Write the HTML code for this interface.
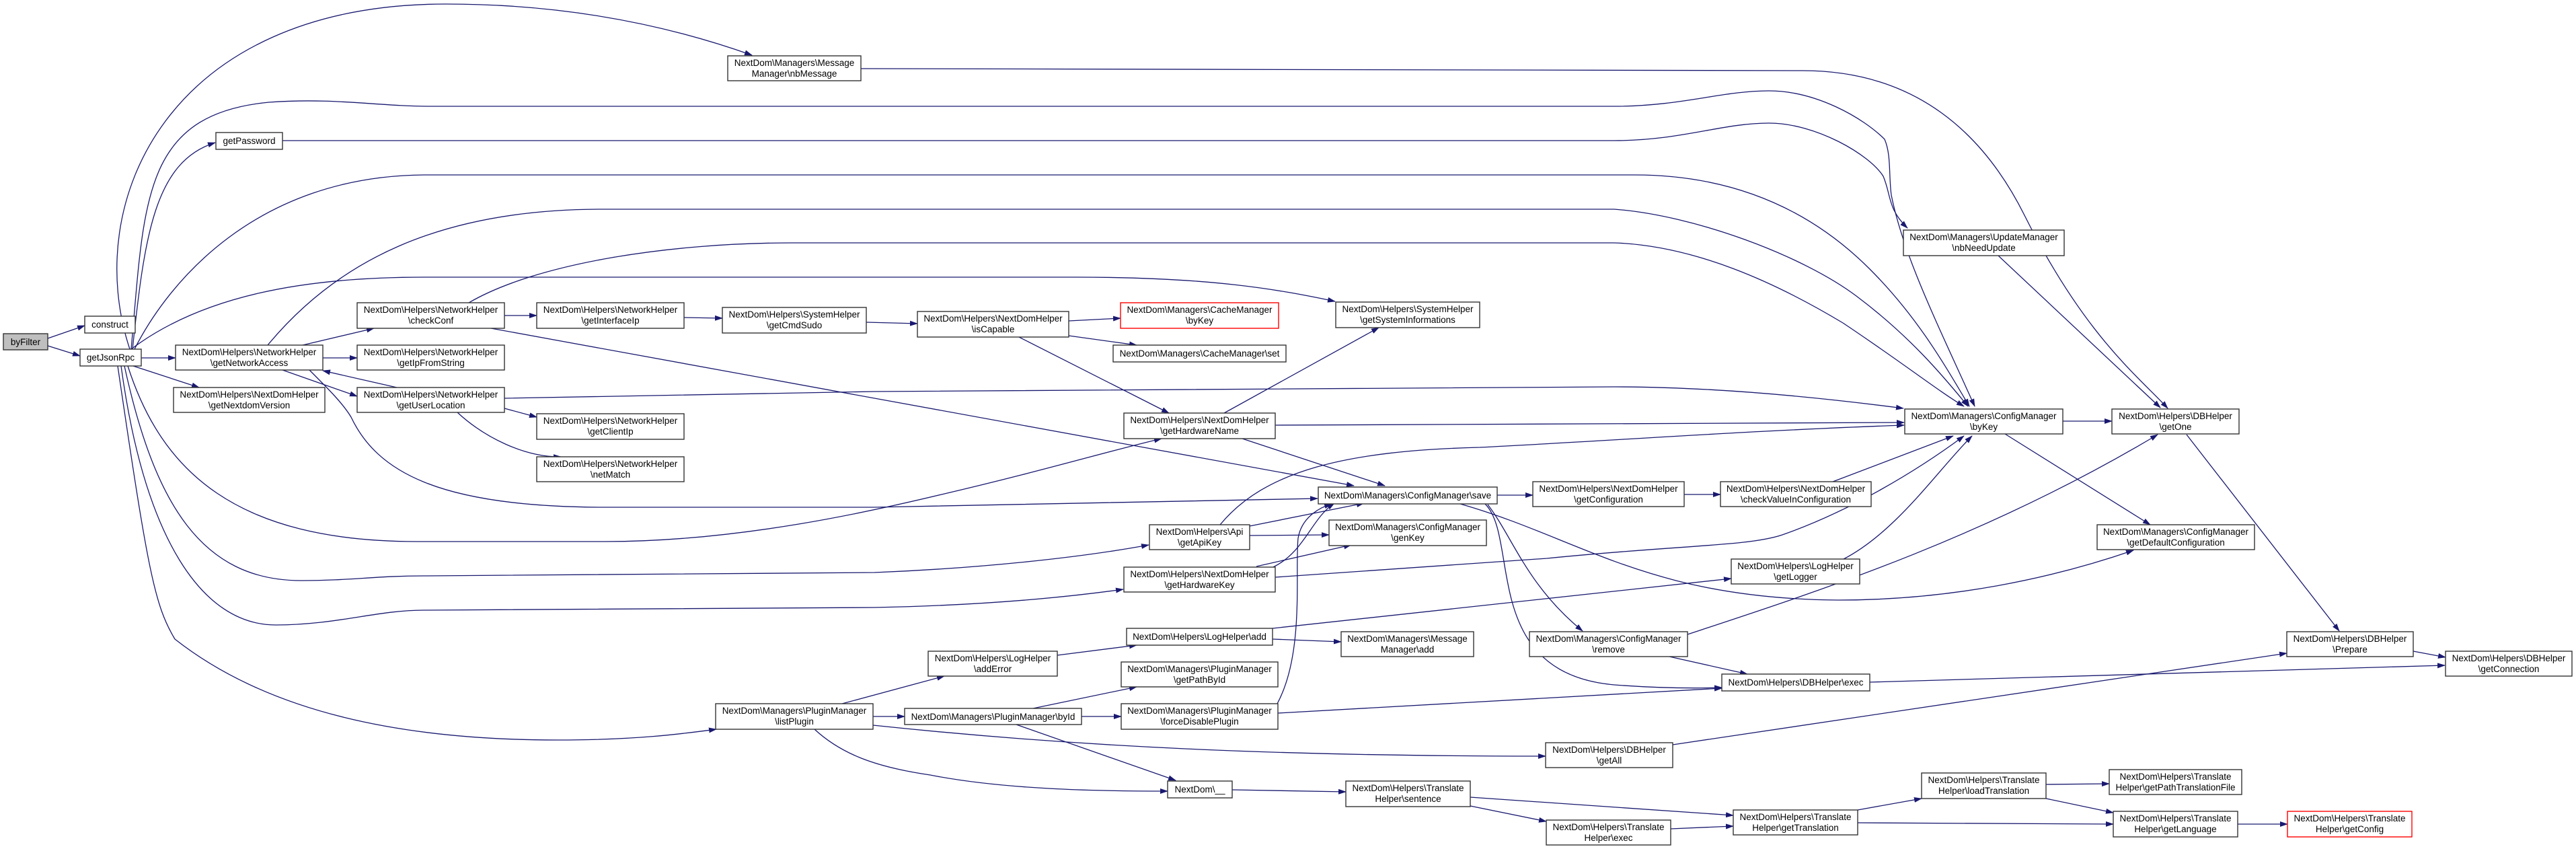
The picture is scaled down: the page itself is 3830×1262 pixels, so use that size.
<!DOCTYPE html>
<html><head><meta charset="utf-8"><style>
html,body{margin:0;padding:0;background:#fff;width:3830px;height:1262px;overflow:hidden}
svg{display:block}
text{font-family:"Liberation Sans",Arial,sans-serif;font-size:13.5px;fill:#000}
.e{fill:none;stroke:#191970;stroke-width:1.3}
.n{fill:#fff;stroke:#333;stroke-width:1.4}
.r{fill:#fff;stroke:#ff0000;stroke-width:1.4}
.g{fill:#bfbfbf;stroke:#333;stroke-width:1.4}
</style></head><body>
<svg width="3830" height="1262" viewBox="0 0 3830 1262" xmlns="http://www.w3.org/2000/svg">
<defs><marker id="a" markerWidth="12" markerHeight="8" refX="11" refY="4" orient="auto" markerUnits="userSpaceOnUse"><path d="M0,0 L12,4 L0,8 z" fill="#191970"/></marker></defs>
<g class="e" marker-end="url(#a)">
<path d="M71,503 L126,484"/>
<path d="M71,514 L119,529"/>
<path d="M193,519 C120,300 250,6 663,6 C850,6 1000,40 1118,82"/>
<path d="M197,519 C215,350 230,240 320,212"/>
<path d="M195,519 C215,300 210,170 400,152 C500,145 560,158 640,158 L2400,158 C2500,158 2560,135 2630,135 C2700,135 2770,175 2802,207 C2812,230 2808,260 2812,290 C2830,380 2880,480 2936,604"/>
<path d="M420,209 L2400,209 C2500,209 2560,183 2630,183 C2700,183 2780,230 2800,262 C2812,290 2806,310 2836,339"/>
<path d="M200,519 C250,420 380,262 630,260 L2430,260 C2560,260 2680,300 2780,400 C2850,470 2890,540 2928,604"/>
<path d="M398,513 C500,390 650,311 895,311 L2400,311 C2520,320 2680,380 2760,440 C2840,500 2890,560 2926,604"/>
<path d="M697,450 C800,390 1000,361 1177,361 L2400,361 C2520,365 2640,420 2740,480 C2830,540 2880,580 2920,604"/>
<path d="M195,519 C300,440 450,412 630,412 L1600,412 C1800,412 1900,430 1985,448"/>
<path d="M750,592 L1300,582 L2400,575 C2550,575 2700,590 2830,607"/>
<path d="M1896,632 L2831,628"/>
<path d="M1814,780 C1880,700 2000,670 2200,665 C2400,655 2600,640 2831,632"/>
<path d="M1896,858 L2300,830 C2500,810 2600,812 2650,795 C2750,760 2850,700 2920,648"/>
<path d="M2725,716 L2904,648"/>
<path d="M2741,831 C2820,790 2880,700 2932,648"/>
<path d="M3067,626 L3140,626"/>
<path d="M2981,645 L3197,780"/>
<path d="M2171,749 C2350,800 2450,890 2733,892 C2900,892 3050,860 3172,818"/>
<path d="M1280,102 L2680,105 C2850,105 2950,200 3010,320 C3100,500 3180,560 3223,607"/>
<path d="M2971,380 L3212,606"/>
<path d="M3251,646 L3478,938"/>
<path d="M2509,943 C2700,880 2950,800 3208,646"/>
<path d="M2482,976 L2598,1002"/>
<path d="M2780,1014 L3635,989"/>
<path d="M3588,968 L3636,977"/>
<path d="M2487,1107 L3400,971"/>
<path d="M2208,749 C2260,800 2200,1000 2400,1018 C2480,1024 2530,1023 2560,1022"/>
<path d="M2212,750 C2250,800 2270,870 2353,938"/>
<path d="M2226,736 L2279,736"/>
<path d="M2504,735 L2558,735"/>
<path d="M460,550 C490,580 510,600 522,620 C560,700 650,754 900,754 L1300,754 L1959,741"/>
<path d="M190,544 C240,700 350,805 620,805 L900,805 C1100,805 1300,759 1400,735 C1550,700 1650,670 1727,652"/>
<path d="M185,544 C230,750 300,863 448,863 C520,863 560,856 630,856 L1300,851 C1450,845 1600,830 1708,810"/>
<path d="M180,544 C215,800 300,929 410,929 C500,929 560,907 630,907 L1300,903 C1450,900 1570,890 1670,876"/>
<path d="M175,544 C220,850 230,900 260,950 C400,1060 600,1100 829,1100 C950,1100 1020,1090 1065,1084"/>
<path d="M730,488 L2013,722"/>
<path d="M1847,652 L2059,722"/>
<path d="M1858,782 L2028,748"/>
<path d="M1858,796 L1976,795"/>
<path d="M1868,842 L2009,810"/>
<path d="M1893,843 C1940,820 1950,770 1984,748"/>
<path d="M1899,1046 C1940,970 1925,850 1930,800 C1935,770 1960,755 1980,749"/>
<path d="M1900,1060 L2560,1023"/>
<path d="M1892,934 L2574,860"/>
<path d="M1892,950 L1994,954"/>
<path d="M1572,974 L1690,959"/>
<path d="M1252,1046 L1404,1005"/>
<path d="M1298,1065 L1345,1065"/>
<path d="M1298,1078 C1600,1110 1900,1124 2298,1124"/>
<path d="M1211,1084 C1250,1120 1300,1140 1383,1152 C1500,1175 1650,1176 1736,1176"/>
<path d="M1536,1053 L1690,1021"/>
<path d="M1608,1065 L1667,1065"/>
<path d="M1511,1077 L1748,1160"/>
<path d="M1832,1174 L2001,1177"/>
<path d="M2186,1185 L2577,1212"/>
<path d="M2186,1198 L2299,1221"/>
<path d="M2484,1232 L2577,1228"/>
<path d="M2762,1204 L2857,1187"/>
<path d="M2762,1223 L3142,1225"/>
<path d="M3042,1166 L3136,1165"/>
<path d="M3042,1187 L3142,1208"/>
<path d="M3327,1225 L3401,1225"/>
<path d="M750,469 L798,469"/>
<path d="M1017,472 L1074,473"/>
<path d="M1288,479 L1364,481"/>
<path d="M1589,477 L1666,473"/>
<path d="M1589,499 L1690,513"/>
<path d="M1515,501 L1738,614"/>
<path d="M1820,614 L2050,487"/>
<path d="M450,513 L556,488"/>
<path d="M480,532 L531,532"/>
<path d="M420,550 L531,589"/>
<path d="M590,576 L480,551"/>
<path d="M750,607 L798,620"/>
<path d="M680,613 C720,650 780,680 834,679"/>
<path d="M210,532 L261,532"/>
<path d="M198,544 L296,576"/>
</g>
<g text-anchor="middle">
<rect class="g" x="5" y="496" width="66" height="24"/><text x="38" y="513">byFilter</text>
<rect class="n" x="126" y="470" width="75" height="25"/><text x="163.5" y="487">construct</text>
<rect class="n" x="119" y="519" width="91" height="25"/><text x="164.5" y="536">getJsonRpc</text>
<rect class="n" x="321" y="197" width="99" height="25"/><text x="370.5" y="214">getPassword</text>
<rect class="n" x="1082" y="83" width="198" height="37"/><text x="1181" y="98">NextDom\Managers\Message</text><text x="1181" y="114">Manager\nbMessage</text>
<rect class="n" x="261" y="513" width="219" height="37"/><text x="370.5" y="528">NextDom\Helpers\NetworkHelper</text><text x="370.5" y="544">\getNetworkAccess</text>
<rect class="n" x="531" y="450" width="219" height="38"/><text x="640.5" y="465">NextDom\Helpers\NetworkHelper</text><text x="640.5" y="481">\checkConf</text>
<rect class="n" x="798" y="450" width="219" height="38"/><text x="907.5" y="465">NextDom\Helpers\NetworkHelper</text><text x="907.5" y="481">\getInterfaceIp</text>
<rect class="n" x="1074" y="457" width="214" height="38"/><text x="1181" y="472">NextDom\Helpers\SystemHelper</text><text x="1181" y="488">\getCmdSudo</text>
<rect class="n" x="531" y="513" width="219" height="37"/><text x="640.5" y="528">NextDom\Helpers\NetworkHelper</text><text x="640.5" y="544">\getIpFromString</text>
<rect class="n" x="258" y="576" width="225" height="37"/><text x="370.5" y="591">NextDom\Helpers\NextDomHelper</text><text x="370.5" y="607">\getNextdomVersion</text>
<rect class="n" x="531" y="576" width="219" height="37"/><text x="640.5" y="591">NextDom\Helpers\NetworkHelper</text><text x="640.5" y="607">\getUserLocation</text>
<rect class="n" x="798" y="615" width="219" height="38"/><text x="907.5" y="630">NextDom\Helpers\NetworkHelper</text><text x="907.5" y="646">\getClientIp</text>
<rect class="n" x="798" y="679" width="219" height="37"/><text x="907.5" y="694">NextDom\Helpers\NetworkHelper</text><text x="907.5" y="710">\netMatch</text>
<rect class="n" x="1064" y="1046" width="234" height="38"/><text x="1181" y="1061">NextDom\Managers\PluginManager</text><text x="1181" y="1077">\listPlugin</text>
<rect class="n" x="1364" y="463" width="225" height="38"/><text x="1476.5" y="478">NextDom\Helpers\NextDomHelper</text><text x="1476.5" y="494">\isCapable</text>
<rect class="r" x="1666" y="450" width="235" height="38"/><text x="1783.5" y="465">NextDom\Managers\CacheManager</text><text x="1783.5" y="481">\byKey</text>
<rect class="n" x="1655" y="513" width="257" height="25"/><text x="1783.5" y="530">NextDom\Managers\CacheManager\set</text>
<rect class="n" x="1986" y="449" width="214" height="38"/><text x="2093" y="464">NextDom\Helpers\SystemHelper</text><text x="2093" y="480">\getSystemInformations</text>
<rect class="n" x="1671" y="614" width="225" height="38"/><text x="1783.5" y="629">NextDom\Helpers\NextDomHelper</text><text x="1783.5" y="645">\getHardwareName</text>
<rect class="n" x="2830" y="342" width="239" height="38"/><text x="2949.5" y="357">NextDom\Managers\UpdateManager</text><text x="2949.5" y="373">\nbNeedUpdate</text>
<rect class="n" x="2832" y="608" width="235" height="37"/><text x="2949.5" y="623">NextDom\Managers\ConfigManager</text><text x="2949.5" y="639">\byKey</text>
<rect class="n" x="3140" y="608" width="189" height="37"/><text x="3234.5" y="623">NextDom\Helpers\DBHelper</text><text x="3234.5" y="639">\getOne</text>
<rect class="n" x="2558" y="716" width="224" height="37"/><text x="2670" y="731">NextDom\Helpers\NextDomHelper</text><text x="2670" y="747">\checkValueInConfiguration</text>
<rect class="n" x="3118" y="780" width="234" height="37"/><text x="3235" y="795">NextDom\Managers\ConfigManager</text><text x="3235" y="811">\getDefaultConfiguration</text>
<rect class="n" x="2574" y="831" width="191" height="37"/><text x="2669.5" y="846">NextDom\Helpers\LogHelper</text><text x="2669.5" y="862">\getLogger</text>
<rect class="n" x="2560" y="1002" width="220" height="25"/><text x="2670" y="1019">NextDom\Helpers\DBHelper\exec</text>
<rect class="n" x="3400" y="939" width="188" height="37"/><text x="3494" y="954">NextDom\Helpers\DBHelper</text><text x="3494" y="970">\Prepare</text>
<rect class="n" x="3636" y="968" width="188" height="37"/><text x="3730" y="983">NextDom\Helpers\DBHelper</text><text x="3730" y="999">\getConnection</text>
<rect class="n" x="2857" y="1149" width="185" height="38"/><text x="2949.5" y="1164">NextDom\Helpers\Translate</text><text x="2949.5" y="1180">Helper\loadTranslation</text>
<rect class="n" x="3136" y="1144" width="197" height="37"/><text x="3234.5" y="1159">NextDom\Helpers\Translate</text><text x="3234.5" y="1175">Helper\getPathTranslationFile</text>
<rect class="n" x="3142" y="1206" width="185" height="38"/><text x="3234.5" y="1221">NextDom\Helpers\Translate</text><text x="3234.5" y="1237">Helper\getLanguage</text>
<rect class="r" x="3401" y="1206" width="185" height="38"/><text x="3493.5" y="1221">NextDom\Helpers\Translate</text><text x="3493.5" y="1237">Helper\getConfig</text>
<rect class="n" x="2577" y="1204" width="185" height="37"/><text x="2669.5" y="1219">NextDom\Helpers\Translate</text><text x="2669.5" y="1235">Helper\getTranslation</text>
<rect class="n" x="1960" y="724" width="266" height="25"/><text x="2093" y="741">NextDom\Managers\ConfigManager\save</text>
<rect class="n" x="2279" y="716" width="225" height="37"/><text x="2391.5" y="731">NextDom\Helpers\NextDomHelper</text><text x="2391.5" y="747">\getConfiguration</text>
<rect class="n" x="1709" y="780" width="149" height="37"/><text x="1783.5" y="795">NextDom\Helpers\Api</text><text x="1783.5" y="811">\getApiKey</text>
<rect class="n" x="1976" y="773" width="234" height="38"/><text x="2093" y="788">NextDom\Managers\ConfigManager</text><text x="2093" y="804">\genKey</text>
<rect class="n" x="1671" y="843" width="225" height="37"/><text x="1783.5" y="858">NextDom\Helpers\NextDomHelper</text><text x="1783.5" y="874">\getHardwareKey</text>
<rect class="n" x="1675" y="934" width="217" height="25"/><text x="1783.5" y="951">NextDom\Helpers\LogHelper\add</text>
<rect class="n" x="1994" y="939" width="197" height="37"/><text x="2092.5" y="954">NextDom\Managers\Message</text><text x="2092.5" y="970">Manager\add</text>
<rect class="n" x="2274" y="939" width="235" height="37"/><text x="2391.5" y="954">NextDom\Managers\ConfigManager</text><text x="2391.5" y="970">\remove</text>
<rect class="n" x="1380" y="968" width="192" height="37"/><text x="1476" y="983">NextDom\Helpers\LogHelper</text><text x="1476" y="999">\addError</text>
<rect class="n" x="1667" y="984" width="233" height="37"/><text x="1783.5" y="999">NextDom\Managers\PluginManager</text><text x="1783.5" y="1015">\getPathById</text>
<rect class="n" x="1345" y="1053" width="263" height="24"/><text x="1476.5" y="1070">NextDom\Managers\PluginManager\byId</text>
<rect class="n" x="1667" y="1046" width="233" height="38"/><text x="1783.5" y="1061">NextDom\Managers\PluginManager</text><text x="1783.5" y="1077">\forceDisablePlugin</text>
<rect class="n" x="2298" y="1104" width="189" height="37"/><text x="2392.5" y="1119">NextDom\Helpers\DBHelper</text><text x="2392.5" y="1135">\getAll</text>
<rect class="n" x="1736" y="1161" width="96" height="25"/><text x="1784" y="1178">NextDom\__</text>
<rect class="n" x="2001" y="1161" width="185" height="38"/><text x="2093.5" y="1176">NextDom\Helpers\Translate</text><text x="2093.5" y="1192">Helper\sentence</text>
<rect class="n" x="2299" y="1219" width="185" height="37"/><text x="2391.5" y="1234">NextDom\Helpers\Translate</text><text x="2391.5" y="1250">Helper\exec</text>
</g>
</svg>
</body></html>
